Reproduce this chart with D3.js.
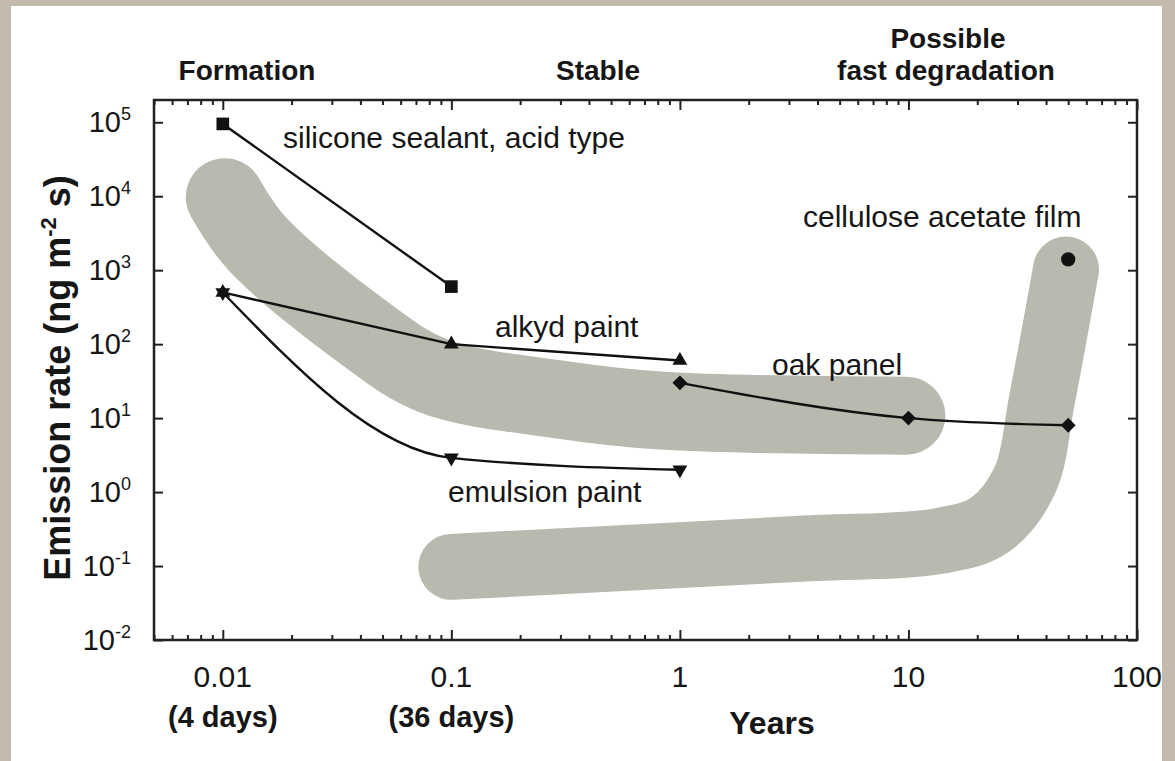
<!DOCTYPE html>
<html>
<head>
<meta charset="utf-8">
<script src="https://cdn.jsdelivr.net/npm/d3@7.9.0/dist/d3.min.js"></script>
<style>
  html, body { margin: 0; padding: 0; background: #c4b9ad; }
  svg { display: block; font-family: Arial, "Liberation Sans", sans-serif; }
</style>
</head>
<body>
<svg id="chart" width="1175" height="761"></svg>
<script>
// values: x in years, y in ng m-2 s
const siliconeYears = [0.01, 0.1];
const siliconeRate = [95000, 600];

const alkydYears = [0.01, 0.1, 1];
const alkydRate = [500, 100, 60];

const emulsionYears = [0.01, 0.1, 1];
const emulsionRate = [500, 2.9, 2.0];

const oakYears = [1, 10, 50];
const oakRate = [30, 10, 8];

const celluloseYears = [50];
const celluloseRate = [1400];

// centre lines of the two grey bands
const formationBandYears = [0.0102, 0.0141, 0.0402, 0.083, 0.3, 0.84, 9.8];
const formationBandRate = [9700, 2300, 153, 37.6, 17.8, 12.6, 10.8];

const degradationBandYears = [0.1, 3.35, 13.7, 22.7, 32.4, 38.4, 48.9];
const degradationBandRate = [0.0975, 0.171, 0.219, 0.36, 1.47, 17.8, 1020];

const xTickValues = [0.01, 0.1, 1, 10, 100];
const xTickLabels = ['0.01', '0.1', '1', '10', '100'];
const xSubLabels = ['(4 days)', '(36 days)'];
const yExponents = [-2, -1, 0, 1, 2, 3, 4, 5];

const phaseLabels = ['Formation', 'Stable', 'Possible', 'fast degradation'];

const svg = d3.select('#chart');

// beige frame with white panel
svg.append('rect').attr('width', 1175).attr('height', 761).attr('fill', '#c4b9ad');
svg.append('rect').attr('x', 11).attr('y', 6).attr('width', 1151).attr('height', 755).attr('fill', '#ffffff');

const plot = { left: 154, right: 1137, top: 100, bottom: 640 };

const x = d3.scaleLog().domain([0.005, 100]).range([plot.left, plot.right]);
const y = d3.scaleLog().domain([0.01, 2e5]).range([plot.bottom, plot.top]);

const zip = (xs, ys) => xs.map((v, i) => [v, ys[i]]);
const ink = '#161616';

// grey bands
let bandLine = d3.line()
    .x((d) => x(d[0]))
    .y((d) => y(d[1]))
    .curve(d3.curveCatmullRom.alpha(0.5));

svg.append('path')
    .attr('d', bandLine(zip(formationBandYears, formationBandRate)))
    .attr('fill', 'none')
    .attr('stroke', '#b9b9af')
    .attr('stroke-width', 78)
    .attr('stroke-linecap', 'round')
    .attr('stroke-linejoin', 'round');

svg.append('path')
    .attr('d', bandLine(zip(degradationBandYears, degradationBandRate)))
    .attr('fill', 'none')
    .attr('stroke', '#b9b9af')
    .attr('stroke-width', 66)
    .attr('stroke-linecap', 'round')
    .attr('stroke-linejoin', 'round');

// axes: ticks point inward on all four sides
const minorX = x.ticks().filter((t) => !xTickValues.includes(+t.toPrecision(6)));
const yDecades = yExponents.map((e) => Math.pow(10, e));

function drawAxis(axis, tx, ty) {
    let g = svg.append('g').attr('transform', `translate(${tx},${ty})`).call(axis);
    g.select('.domain').remove();
    g.selectAll('line').attr('stroke', '#222').attr('stroke-width', 2);
}

drawAxis(d3.axisBottom(x).tickValues(xTickValues).tickSize(-10).tickFormat(''), 0, plot.bottom);
drawAxis(d3.axisBottom(x).tickValues(minorX).tickSize(-5).tickFormat(''), 0, plot.bottom);
drawAxis(d3.axisTop(x).tickValues(xTickValues).tickSize(-10).tickFormat(''), 0, plot.top);
drawAxis(d3.axisTop(x).tickValues(minorX).tickSize(-5).tickFormat(''), 0, plot.top);
drawAxis(d3.axisLeft(y).tickValues(yDecades).tickSize(-9).tickFormat(''), plot.left, 0);
drawAxis(d3.axisRight(y).tickValues(yDecades).tickSize(-9).tickFormat(''), plot.right, 0);

svg.append('rect')
    .attr('x', plot.left)
    .attr('y', plot.top)
    .attr('width', plot.right - plot.left)
    .attr('height', plot.bottom - plot.top)
    .attr('fill', 'none')
    .attr('stroke', '#222')
    .attr('stroke-width', 2.5);

// series lines
function drawSeries(xs, ys, curve) {
    let line = d3.line().x((d) => x(d[0])).y((d) => y(d[1])).curve(curve);
    svg.append('path')
        .attr('d', line(zip(xs, ys)))
        .attr('fill', 'none')
        .attr('stroke', '#111')
        .attr('stroke-width', 2.4);
}

drawSeries(siliconeYears, siliconeRate, d3.curveLinear);
drawSeries(alkydYears, alkydRate, d3.curveLinear);
drawSeries(emulsionYears, emulsionRate, d3.curveMonotoneX);
drawSeries(oakYears, oakRate, d3.curveMonotoneX);

// markers
function drawMarkers(xs, ys, type, size, rotate) {
    let sym = d3.symbol().type(type).size(size);
    zip(xs, ys).forEach((d) => {
        svg.append('path')
            .attr('d', sym())
            .attr('transform', `translate(${x(d[0])},${y(d[1])}) rotate(${rotate})`)
            .attr('fill', '#111');
    });
}

drawMarkers(siliconeYears, siliconeRate, d3.symbolSquare, 160, 0);
drawMarkers(alkydYears, alkydRate, d3.symbolTriangle, 95, 0);
drawMarkers(emulsionYears, emulsionRate, d3.symbolTriangle, 95, 180);
drawMarkers(oakYears, oakRate, d3.symbolSquare, 110, 45);
drawMarkers(celluloseYears, celluloseRate, d3.symbolCircle, 160, 0);

// series annotations
const annotations = [
    { text: 'silicone sealant, acid type', px: 283, py: 148 },
    { text: 'alkyd paint', px: 495, py: 337 },
    { text: 'oak panel', px: 772, py: 375 },
    { text: 'cellulose acetate film', px: 803, py: 227 },
    { text: 'emulsion paint', px: 448, py: 502 }
];

annotations.forEach((a) => {
    svg.append('text')
        .attr('x', a.px)
        .attr('y', a.py)
        .attr('font-size', 30)
        .attr('fill', ink)
        .text(a.text);
});

// x tick labels
xTickValues.forEach((v, i) => {
    svg.append('text')
        .attr('x', x(v))
        .attr('y', 687)
        .attr('text-anchor', 'middle')
        .attr('font-size', 30)
        .attr('fill', ink)
        .text(xTickLabels[i]);
});

xSubLabels.forEach((s, i) => {
    svg.append('text')
        .attr('x', x(xTickValues[i]))
        .attr('y', 727)
        .attr('text-anchor', 'middle')
        .attr('font-size', 29)
        .attr('font-weight', 'bold')
        .attr('fill', ink)
        .text(s);
});

svg.append('text')
    .attr('x', 772)
    .attr('y', 734)
    .attr('text-anchor', 'middle')
    .attr('font-size', 32)
    .attr('font-weight', 'bold')
    .attr('fill', ink)
    .text('Years');

// y tick labels with superscript exponents
yExponents.forEach((e) => {
    let t = svg.append('text')
        .attr('x', 131)
        .attr('y', y(Math.pow(10, e)) + 10)
        .attr('text-anchor', 'end')
        .attr('font-size', 29)
        .attr('fill', ink);
    t.append('tspan').text('10');
    t.append('tspan').attr('dy', -12).attr('font-size', 18).text(e);
});

// y axis title
let yTitle = svg.append('text')
    .attr('transform', 'translate(70,378) rotate(-90)')
    .attr('text-anchor', 'middle')
    .attr('font-size', 36)
    .attr('font-weight', 'bold')
    .attr('fill', ink);
yTitle.append('tspan').text('Emission rate (ng m');
yTitle.append('tspan').attr('dy', -14).attr('font-size', 22).text('-2');
yTitle.append('tspan').attr('dy', 14).text(' s)');

// phase labels above the plot
const phasePos = [[247, 80], [598, 80], [948, 48], [946, 80]];
phaseLabels.forEach((p, i) => {
    svg.append('text')
        .attr('x', phasePos[i][0])
        .attr('y', phasePos[i][1])
        .attr('text-anchor', 'middle')
        .attr('font-size', 28)
        .attr('font-weight', 'bold')
        .attr('fill', ink)
        .text(p);
});
</script>
</body>
</html>
